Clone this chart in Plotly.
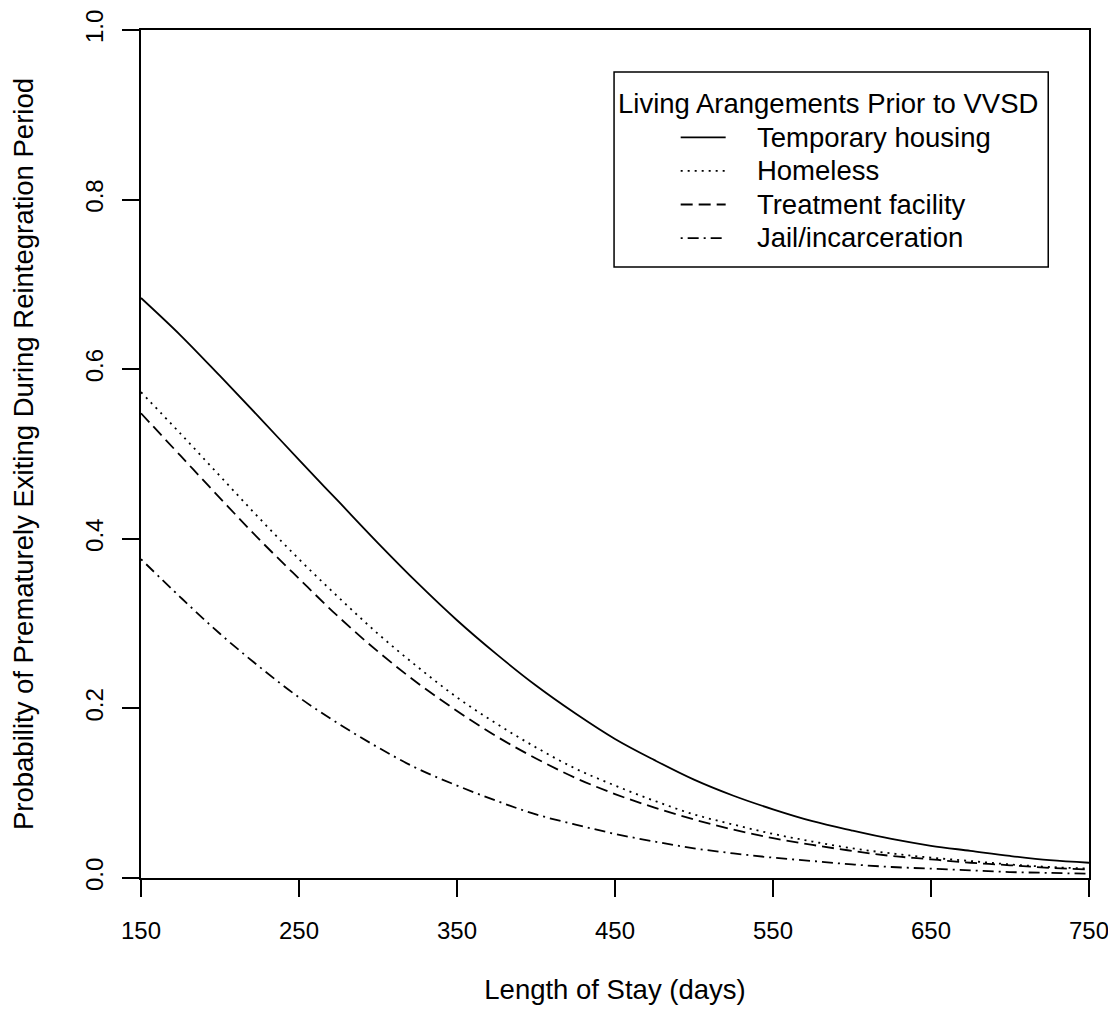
import plotly.graph_objects as go

# Length of stay (days)
days = [150, 175, 200, 225, 250, 275, 300, 325, 350, 375, 400, 425, 450,
        475, 500, 525, 550, 575, 600, 625, 650, 675, 700, 725, 750]

# Estimated probabilities
temporary_housing = [0.684, 0.640, 0.592, 0.543, 0.493, 0.444, 0.395, 0.348, 0.304,
                     0.264, 0.227, 0.194, 0.164, 0.139, 0.116, 0.097, 0.081, 0.067,
                     0.056, 0.046, 0.038, 0.032, 0.026, 0.021, 0.018]
homeless = [0.573, 0.524, 0.474, 0.424, 0.376, 0.331, 0.288, 0.249, 0.213,
            0.182, 0.154, 0.129, 0.109, 0.091, 0.075, 0.063, 0.052, 0.043,
            0.035, 0.029, 0.024, 0.020, 0.016, 0.013, 0.011]
treatment_facility = [0.548, 0.498, 0.448, 0.399, 0.353, 0.308, 0.267, 0.230, 0.197,
                      0.167, 0.141, 0.118, 0.099, 0.083, 0.069, 0.057, 0.047, 0.039,
                      0.032, 0.026, 0.022, 0.018, 0.015, 0.012, 0.010]
jail_incarceration = [0.376, 0.331, 0.288, 0.249, 0.213, 0.182, 0.154, 0.129, 0.109,
                      0.091, 0.075, 0.063, 0.052, 0.043, 0.035, 0.029, 0.024, 0.020,
                      0.016, 0.013, 0.011, 0.009, 0.007, 0.006, 0.005]

series_names = ["Temporary housing", "Homeless", "Treatment facility", "Jail/incarceration"]
series_values = [temporary_housing, homeless, treatment_facility, jail_incarceration]
series_dash = ["solid", "2px,5px", "12px,6px", "2px,5px,11px,5px"]

x_ticks = [150, 250, 350, 450, 550, 650, 750]
y_ticks = [0.0, 0.2, 0.4, 0.6, 0.8, 1.0]

legend_title = "Living Arangements Prior to VVSD"
x_title = "Length of Stay (days)"
y_title = "Probability of Prematurely Exiting During Reintegration Period"

FONT = "Liberation Sans, Arial, sans-serif"
TICK_FS = 24
TITLE_FS = 27.5
LEG_FS = 27.5

fig = go.Figure()
for name, vals, dash in zip(series_names, series_values, series_dash):
    label = ('<span style="font-size:%spx">\u00a0\u00a0\u00a0</span>'
             '<span style="font-size:%spx">%s</span>') % (LEG_FS + 4, LEG_FS, name)
    fig.add_trace(go.Scatter(
        x=days, y=vals, mode="lines", name=label,
        line=dict(color="black", width=1.8, dash=dash, shape="spline"),
    ))

axis_common = dict(
    showline=True, linecolor="black", linewidth=1.7, mirror=True,
    ticks="outside", ticklen=17, tickwidth=1.7, tickcolor="black",
    showgrid=False, zeroline=False, automargin=False,
    ticklabeloverflow="allow",
    tickfont=dict(family=FONT, size=TICK_FS, color="black"),
)

fig.update_xaxes(
    range=[150, 750], tickvals=x_ticks, ticktext=[str(v) for v in x_ticks],
    ticklabelstandoff=13,
    title=dict(text=x_title, font=dict(family=FONT, size=TITLE_FS, color="black"), standoff=37),
    **axis_common,
)
fig.update_yaxes(
    range=[0, 1], tickvals=y_ticks, ticktext=[f"{v:.1f}" for v in y_ticks],
    tickangle=-90, ticklabelstandoff=10,
    title=dict(text=y_title, font=dict(family=FONT, size=TITLE_FS, color="black"), standoff=41),
    **axis_common,
)

# Legend box and title (R-style legend)
fig.add_shape(type="rect", xref="paper", yref="paper",
              x0=0.499, x1=0.957, y0=0.7205, y1=0.9505,
              line=dict(color="black", width=1.5), fillcolor="rgba(0,0,0,0)")
fig.add_annotation(text=legend_title, xref="paper", yref="paper",
                   x=0.501, y=0.913, xanchor="left", yanchor="middle",
                   showarrow=False, font=dict(family=FONT, size=LEG_FS, color="black"))

fig.update_layout(
    width=1116, height=1011,
    margin=dict(l=133, r=35, t=22, b=141),
    paper_bgcolor="white", plot_bgcolor="white",
    font=dict(family=FONT, size=24, color="black"),
    showlegend=True,
    legend=dict(x=0.564, y=0.899, xanchor="left", yanchor="top",
                bgcolor="rgba(0,0,0,0)", borderwidth=0,
                font=dict(family=FONT, size=23.5, color="black"),
                itemwidth=45, tracegroupgap=0),
)

fig.write_html("out.html")
